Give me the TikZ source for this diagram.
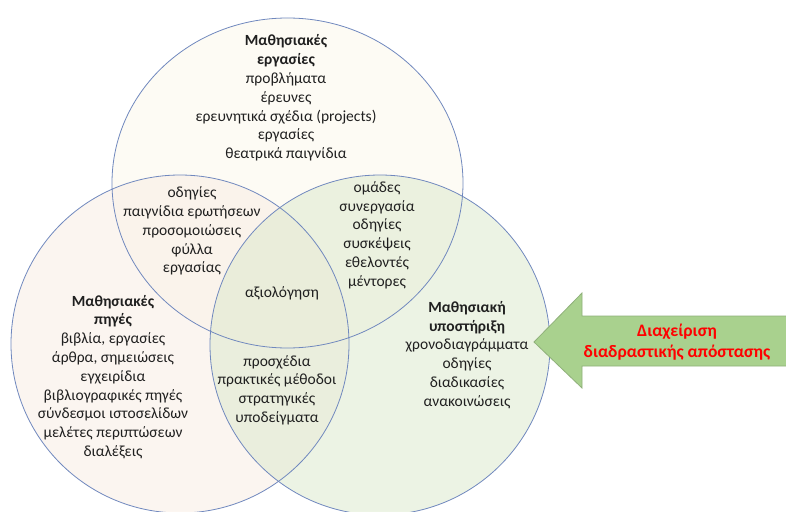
\documentclass[tikz,border=0pt]{standalone}
\usepackage{fontspec}
\setmainfont{Carlito}
\usetikzlibrary{positioning}
\definecolor{ringline}{HTML}{7088BE}
\definecolor{tasksfill}{HTML}{FDF9EB}
\definecolor{sourcesfill}{HTML}{F9EDE3}
\definecolor{supportfill}{HTML}{DBE9CB}
\definecolor{arrowfill}{HTML}{A9D18E}
\definecolor{arrowline}{HTML}{8FB07A}
\definecolor{textgray}{HTML}{202020}
\tikzset{
  venntext/.style={align=center,font=\fontsize{15.5}{18.8}\selectfont,text=textgray,inner sep=0pt},
  ringfill/.style={fill opacity=0.5},
  ring/.style={draw=ringline,line width=0.8pt},
}
\begin{document}
\begin{tikzpicture}[x=1pt,y=-1pt]
\useasboundingbox (0,0) rectangle (786,511);
\fill[white] (0,0) rectangle (786,511);
\clip (0,0) rectangle (786,511);
\coordinate (tasksc) at (287.5,183);
\coordinate (sourcesc) at (180,344);
\coordinate (supportc) at (380,345);
\fill[ringfill,tasksfill] (tasksc) ellipse [x radius=175.5pt, y radius=165pt];
\fill[ringfill,sourcesfill] (sourcesc) circle [radius=169pt];
\fill[ringfill,supportfill] (supportc) circle [radius=170pt];
\draw[ring] (tasksc) ellipse [x radius=175.5pt, y radius=165pt];
\draw[ring] (sourcesc) circle [radius=169pt];
\draw[ring] (supportc) circle [radius=170pt];
\node[venntext] (tasks) at (286,98) {\textbf{Μαθησιακές}\\\textbf{εργασίες}\\προβλήματα\\έρευνες\\ερευνητικά σχέδια (projects)\\εργασίες\\θεατρικά παιγνίδια};
\node[venntext] (tasksources) at (192,231) {οδηγίες\\παιγνίδια ερωτήσεων\\προσομοιώσεις\\φύλλα\\εργασίας};
\node[venntext] (tasksupport) at (377,235) {ομάδες\\συνεργασία\\οδηγίες\\συσκέψεις\\εθελοντές\\μέντορες};
\node[venntext] (allthree) at (282,293) {αξιολόγηση};
\node[venntext] (sources) at (113,377) {\textbf{Μαθησιακές}\\\textbf{πηγές}\\βιβλία, εργασίες\\άρθρα, σημειώσεις\\εγχειρίδια\\βιβλιογραφικές πηγές\\σύνδεσμοι ιστοσελίδων\\μελέτες περιπτώσεων\\διαλέξεις};
\node[venntext] (sourcesupport) at (277,390) {προσχέδια\\πρακτικές μέθοδοι\\στρατηγικές\\υποδείγματα};
\node[venntext] (support) at (467,355) {\textbf{Μαθησιακή}\\\textbf{υποστήριξη}\\χρονοδιαγράμματα\\οδηγίες\\διαδικασίες\\ανακοινώσεις};
\filldraw[fill=arrowfill,draw=arrowline,line width=0.8pt] (534,342) -- (582,293) -- (582,316) -- (800,316) -- (800,366) -- (582,366) -- (582,388) -- cycle;
\node[venntext,text=red,font=\bfseries\fontsize{17.5}{21}\selectfont] (distance) at (677,342) {Διαχείριση\\διαδραστικής απόστασης};
\end{tikzpicture}
\end{document}
